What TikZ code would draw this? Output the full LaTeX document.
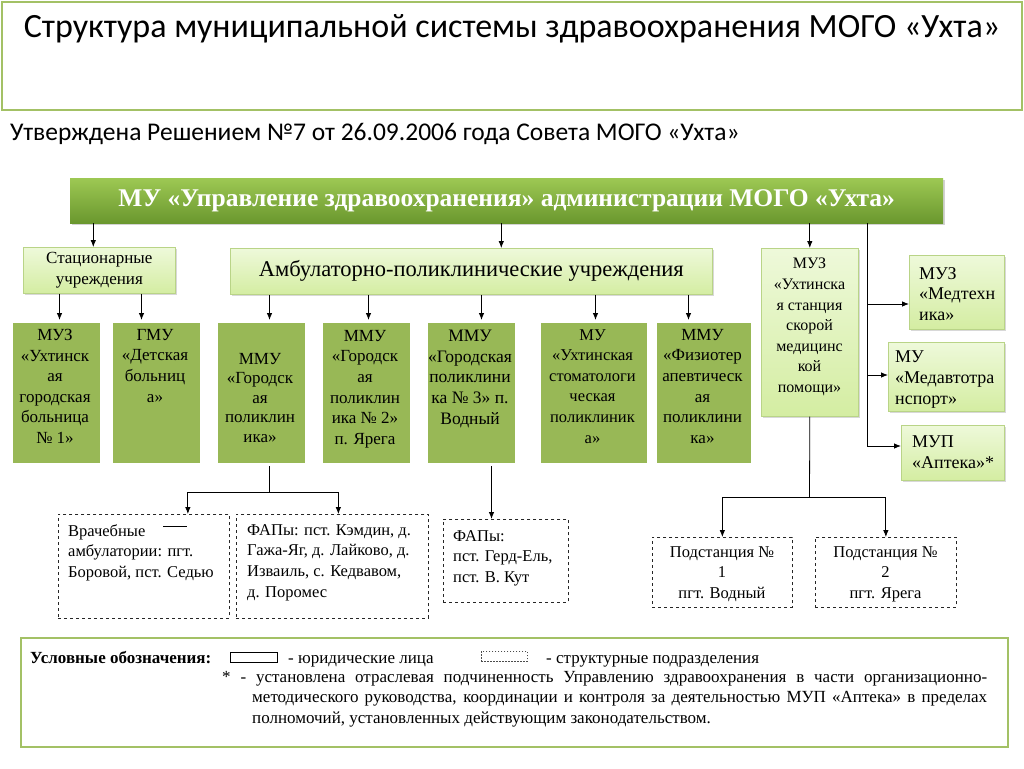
\documentclass[tikz,border=0pt]{standalone}
\usepackage{fontspec}
\setmainfont{Liberation Serif}
\newfontfamily\calib{Carlito}
\usetikzlibrary{shadows,arrows.meta,calc}
\definecolor{olivebd}{HTML}{A3C165}
\definecolor{maintop}{HTML}{9DC853}
\definecolor{mainbot}{HTML}{6A972E}
\definecolor{lighttop}{HTML}{EEF9DA}
\definecolor{lightbot}{HTML}{D4EDA2}
\definecolor{lightbd}{HTML}{B9D487}
\definecolor{darkfill}{HTML}{98B856}
\tikzset{
  arr/.style={-{Latex[length=7pt,width=5.5pt]}, line width=0.8pt},
  ln/.style={line width=0.8pt},
  mainbox/.style={top color=maintop, bottom color=mainbot, draw=none, inner sep=0,
    anchor=north west, drop shadow={opacity=0.35, shadow xshift=2pt, shadow yshift=-2pt}},
  lbox/.style={top color=lighttop, bottom color=lightbot, draw=lightbd, line width=0.6pt,
    inner sep=0, anchor=north west, drop shadow={opacity=0.3, shadow xshift=1.5pt, shadow yshift=-1.5pt}},
  dbox/.style={fill=darkfill, draw=white, line width=3pt, inner sep=0, anchor=north west,
    drop shadow={opacity=0.3, shadow xshift=1pt, shadow yshift=-1.5pt}},
  sbox/.style={draw=black!85, dashed, line width=0.7pt, fill=white, inner sep=0, anchor=north west},
  btext/.style={align=center, inner sep=0, anchor=north, font=\fontsize{#1}{20.6}\selectfont},
  btext/.default=17,
  ltext/.style={align=left, inner sep=0, anchor=north west, font=\fontsize{16.5}{20.7}\selectfont},
  ctext/.style={align=center, inner sep=0, anchor=north, font=\fontsize{16.5}{20.7}\selectfont},
}
\begin{document}
\begin{tikzpicture}[x=1pt,y=-1pt]
\useasboundingbox[fill=white] (0,0) rectangle (1024,768);
% title
\node[draw=olivebd, line width=2pt, minimum width=1020pt, minimum height=108pt, inner sep=0, anchor=north west] (titlebox) at (1,1) {};
\node[inner sep=0, font=\calib\fontsize{34}{40}\selectfont] (title) at (512,29) {Структура муниципальной системы здравоохранения МОГО «Ухта»};
\node[inner sep=0, anchor=base west, font=\calib\fontsize{25.5}{30}\selectfont] (sub) at (10,140) {Утверждена Решением №7 от 26.09.2006 года Совета МОГО «Ухта»};
% main box
\node[mainbox, minimum width=873pt, minimum height=45pt] (main) at (70,178) {};
\node[inner sep=0, text=white, font=\bfseries\fontsize{25.5}{30}\selectfont] (maint) at (main.center) {МУ «Управление здравоохранения» администрации МОГО «Ухта»};
% second level
\node[lbox, minimum width=152pt, minimum height=46pt] (stat) at (23,247) {};
\node[ctext, anchor=center, font=\fontsize{17}{20.5}\selectfont] (statt) at (stat.center) {Стационарные\\учреждения};
\node[lbox, minimum width=482pt, minimum height=46pt] (amb) at (230,248) {};
\node[inner sep=0, font=\fontsize{22.5}{26}\selectfont] (ambt) at (amb.center) {Амбулаторно-поликлинические учреждения};
\node[lbox, minimum width=97pt, minimum height=168pt] (smp) at (761,248) {};
\node[btext=16] (smpt) at (809.5,258) {МУЗ\\«Ухтинска\\я станция\\скорой\\медицинс\\кой\\помощи»};
\node[lbox, minimum width=95pt, minimum height=74pt] (medt) at (909,255) {};
\node[ltext, font=\fontsize{18}{20.5}\selectfont] (medtt) at (919,267) {МУЗ\\«Медтехн\\ика»};
\node[lbox, minimum width=116pt, minimum height=69pt] (mat) at (888,342) {};
\node[ltext, font=\fontsize{18}{21}\selectfont] (matt) at (895,351) {МУ\\«Медавтотра\\нспорт»};
\node[lbox, minimum width=103pt, minimum height=55pt] (apt) at (901,425) {};
\node[ltext, font=\fontsize{18}{20.5}\selectfont] (aptt) at (912,436) {МУП\\«Аптека»*};
% third level
\node[dbox, minimum width=90pt, minimum height=143pt] (b1) at (10,320) {};
\node[btext] (t1) at (55,329) {МУЗ\\«Ухтинск\\ая\\городская\\больница\\№ 1»};
\node[dbox, minimum width=90pt, minimum height=143pt] (b2) at (110,320) {};
\node[btext] (t2) at (155,329) {ГМУ\\«Детская\\больниц\\а»};
\node[dbox, minimum width=90pt, minimum height=143pt] (b3) at (215,320) {};
\node[btext, font=\fontsize{17}{19.5}\selectfont] (t3) at (260,353) {ММУ\\«Городск\\ая\\поликлин\\ика»};
\node[dbox, minimum width=90pt, minimum height=143pt] (b4) at (320,320) {};
\node[btext] (t4) at (365,330) {ММУ\\«Городск\\ая\\поликлин\\ика № 2»\\п. Ярега};
\node[dbox, minimum width=90pt, minimum height=143pt] (b5) at (425,320) {};
\node[btext=17.5] (t5) at (470,330) {ММУ\\«Городская\\поликлини\\ка № 3» п.\\Водный};
\node[dbox, minimum width=109pt, minimum height=143pt] (b6) at (538,320) {};
\node[btext=16.5] (t6) at (592.5,329) {МУ\\«Ухтинская\\стоматологи\\ческая\\поликлиник\\а»};
\node[dbox, minimum width=97pt, minimum height=143pt] (b7) at (654,320) {};
\node[btext=17] (t7) at (702.5,329) {ММУ\\«Физиотер\\апевтическ\\ая\\поликлини\\ка»};
% structural subdivisions
\node[sbox, minimum width=171pt, minimum height=104pt] (va) at (58,514) {};
\node[ltext] (vat) at (68,524) {Врачебные\\амбулатории: пгт.\\Боровой, пст. Седью};
\node[sbox, minimum width=192pt, minimum height=104pt] (vb) at (236,514) {};
\node[ltext] (vbt) at (247,524) {ФАПы: пст. Кэмдин, д.\\Гажа-Яг, д. Лайково, д.\\Изваиль, с. Кедвавом,\\д. Поромес};
\node[sbox, minimum width=125pt, minimum height=83pt] (vc) at (443,519) {};
\node[ltext] (vct) at (453,530) {ФАПы:\\пст. Герд-Ель,\\пст. В. Кут};
\node[sbox, minimum width=140pt, minimum height=70pt] (vd) at (652,537) {};
\node[ctext] (vdt) at (722,546) {Подстанция №\\1\\пгт. Водный};
\node[sbox, minimum width=141pt, minimum height=70pt] (ve) at (815,537) {};
\node[ctext] (vet) at (885.5,546) {Подстанция №\\2\\пгт. Ярега};
\draw[line width=0.7pt] (163,526) -- (187,526);
% connectors from main
\draw[arr] ([xshift=-6pt]stat.north |- main.south) -- ([xshift=-6pt]stat.north);
\draw[arr] ([xshift=30pt]amb.north |- main.south) -- ([xshift=30pt]amb.north);
\draw[arr] (smp.north |- main.south) -- (smp.north);
\coordinate (v1) at (867,304);
\coordinate (v2) at (867,375);
\coordinate (v3) at (867,446);
\draw[ln] (v3 |- main.south) -- (v3);
\draw[arr] (v1) -- (v1 -| medt.west);
\draw[arr] (v2) -- (v2 -| mat.west);
\draw[arr] (v3) -- (v3 -| apt.west);
% to third level
\draw[arr] ([xshift=3pt]b1.north |- stat.south) -- ([xshift=3pt]b1.north);
\draw[arr] ([xshift=-15pt]b2.north |- stat.south) -- ([xshift=-15pt]b2.north);
\draw[arr] ([xshift=8pt]b3.north |- amb.south) -- ([xshift=8pt]b3.north);
\draw[arr] ([xshift=2pt]b4.north |- amb.south) -- ([xshift=2pt]b4.north);
\draw[arr] ([xshift=10pt]b5.north |- amb.south) -- ([xshift=10pt]b5.north);
\draw[arr] ([xshift=1.5pt]b6.north |- amb.south) -- ([xshift=1.5pt]b6.north);
\draw[arr] ([xshift=-15.5pt]b7.north |- amb.south) -- ([xshift=-15.5pt]b7.north);
% lower connectors
\coordinate (j1) at (269,492);
\draw[ln] (j1 |- b3.south) -- (j1);
\draw[arr] (j1) -| ([xshift=44pt]va.north);
\draw[arr] (j1) -| ([xshift=6pt]vb.north);
\draw[arr] ([xshift=20pt]b5.south) -- ([xshift=20pt]b5.south |- vc.north);
\coordinate (j2) at (809.5,497);
\draw[ln] (smp.south) -- (j2);
\draw[arr] (j2) -| (vd.north);
\draw[arr] (j2) -| (ve.north);
% legend
\node[draw=olivebd, line width=2pt, minimum width=987pt, minimum height=109pt, inner sep=0, anchor=north west] (legend) at (20,637) {};
\node[inner sep=0, anchor=base west, font=\bfseries\fontsize{17}{20}\selectfont] (legt) at (30,663) {Условные обозначения:};
\node[draw=black, line width=0.8pt, minimum width=47pt, minimum height=10pt, inner sep=0, anchor=north west] (legsolid) at (230,652) {};
\node[inner sep=0, anchor=base west, font=\fontsize{17}{20}\selectfont] (legs) at (288,663) {- юридические лица};
\node[draw=black!70, dash pattern=on 1.5pt off 1.5pt, line width=0.6pt, minimum width=46pt, minimum height=10pt, inner sep=0, anchor=north west] (legdash) at (481,651) {};
\node[inner sep=0, anchor=base west, font=\fontsize{17}{20}\selectfont] (legd) at (546,663) {- структурные подразделения};
\node[inner sep=0, anchor=north west, text width=765pt, align=justify, font=\fontsize{17}{20.5}\selectfont] (foot) at (222,671)
 {\hangindent=30pt\hangafter=1 * - установлена отраслевая подчиненность Управлению здравоохранения в части организационно-\linebreak методического руководства, координации и контроля за деятельностью МУП «Аптека» в пределах\linebreak полномочий, установленных действующим законодательством.\par};
\end{tikzpicture}
\end{document}
